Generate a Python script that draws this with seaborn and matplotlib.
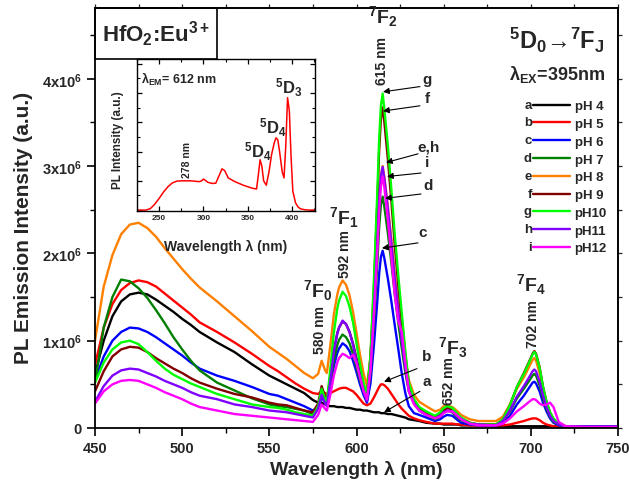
import matplotlib
matplotlib.use('Agg')
import matplotlib.pyplot as plt
from matplotlib.patches import Rectangle
from matplotlib.ticker import MultipleLocator, FuncFormatter
import pandas as pd
import seaborn as sns

# wavelength grid (nm) shared by all emission spectra
wavelength = [450, 455, 460, 465, 470, 475, 480, 485, 490, 495,
              500, 505, 510, 520, 530, 540, 550, 555, 560, 565,
              570, 575, 578, 580, 582, 583, 585, 587, 589, 590,
              592, 594, 596, 598, 600, 602, 604, 606, 608, 610,
              612, 613, 614, 615, 616, 618, 620, 622, 624, 626,
              628, 630, 633, 636, 640, 645, 648, 650, 652, 655,
              658, 660, 665, 670, 680, 684, 688, 692, 696, 699,
              701, 702, 703, 705, 707, 709, 711, 713, 716, 720,
              730, 740, 750]

# PL emission intensity, units of 10^6
ph4 = [0.62, 1.00, 1.28, 1.45, 1.53, 1.55, 1.53, 1.47, 1.40, 1.33,
       1.25, 1.18, 1.10, 0.98, 0.87, 0.73, 0.60, 0.55, 0.50, 0.45,
       0.40, 0.32, 0.29, 0.29, 0.27, 0.26, 0.25, 0.25, 0.24, 0.24,
       0.24, 0.23, 0.23, 0.22, 0.21, 0.21, 0.20, 0.20, 0.19, 0.18,
       0.18, 0.18, 0.17, 0.17, 0.17, 0.16, 0.16, 0.15, 0.14, 0.13,
       0.12, 0.10, 0.09, 0.08, 0.06, 0.05, 0.05, 0.04, 0.04, 0.04,
       0.04, 0.03, 0.03, 0.03, 0.02, 0.02, 0.02, 0.02, 0.02, 0.02,
       0.02, 0.02, 0.02, 0.02, 0.02, 0.02, 0.02, 0.02, 0.02, 0.01,
       0.01, 0.01, 0.01]
ph5 = [0.72, 1.15, 1.42, 1.58, 1.66, 1.69, 1.67, 1.62, 1.54, 1.46,
       1.38, 1.30, 1.21, 1.10, 0.98, 0.85, 0.71, 0.65, 0.58, 0.51,
       0.45, 0.40, 0.39, 0.42, 0.40, 0.39, 0.40, 0.42, 0.44, 0.45,
       0.46, 0.46, 0.44, 0.42, 0.38, 0.33, 0.28, 0.26, 0.28, 0.35,
       0.43, 0.47, 0.50, 0.50, 0.49, 0.45, 0.39, 0.33, 0.27, 0.22,
       0.18, 0.14, 0.11, 0.09, 0.07, 0.05, 0.05, 0.05, 0.05, 0.05,
       0.04, 0.04, 0.03, 0.03, 0.03, 0.03, 0.04, 0.06, 0.08, 0.10,
       0.11, 0.11, 0.11, 0.09, 0.06, 0.04, 0.03, 0.02, 0.02, 0.01,
       0.01, 0.01, 0.01]
ph6 = [0.55, 0.82, 1.00, 1.10, 1.15, 1.14, 1.10, 1.04, 0.97, 0.90,
       0.83, 0.75, 0.68, 0.60, 0.54, 0.47, 0.39, 0.37, 0.33, 0.29,
       0.25, 0.20, 0.24, 0.35, 0.29, 0.26, 0.47, 0.71, 0.86, 0.91,
       0.97, 0.94, 0.88, 0.77, 0.64, 0.50, 0.38, 0.29, 0.51, 0.95,
       1.47, 1.77, 1.96, 2.03, 1.94, 1.71, 1.45, 1.17, 0.90, 0.62,
       0.40, 0.25, 0.17, 0.15, 0.12, 0.08, 0.10, 0.13, 0.15, 0.14,
       0.09, 0.06, 0.04, 0.03, 0.03, 0.05, 0.14, 0.27, 0.37, 0.46,
       0.52, 0.53, 0.51, 0.42, 0.29, 0.19, 0.11, 0.06, 0.03, 0.02,
       0.01, 0.01, 0.01]
ph7 = [0.52, 1.15, 1.50, 1.70, 1.68, 1.60, 1.49, 1.35, 1.20, 1.04,
       0.90, 0.77, 0.66, 0.52, 0.43, 0.34, 0.27, 0.25, 0.24, 0.22,
       0.20, 0.16, 0.25, 0.42, 0.32, 0.28, 0.52, 0.78, 0.95, 1.01,
       1.07, 1.04, 0.97, 0.85, 0.70, 0.55, 0.42, 0.33, 0.63, 1.21,
       1.91, 2.30, 2.56, 2.65, 2.53, 2.23, 1.89, 1.52, 1.20, 0.91,
       0.64, 0.42, 0.28, 0.20, 0.15, 0.10, 0.13, 0.18, 0.20, 0.18,
       0.12, 0.09, 0.05, 0.04, 0.04, 0.08, 0.19, 0.34, 0.45, 0.54,
       0.60, 0.62, 0.60, 0.49, 0.34, 0.22, 0.13, 0.07, 0.04, 0.02,
       0.01, 0.01, 0.01]
ph8 = [1.00, 1.62, 1.98, 2.22, 2.33, 2.35, 2.29, 2.19, 2.06, 1.94,
       1.82, 1.71, 1.61, 1.45, 1.28, 1.11, 0.93, 0.86, 0.79, 0.71,
       0.63, 0.57, 0.62, 0.77, 0.66, 0.63, 0.95, 1.30, 1.53, 1.61,
       1.69, 1.64, 1.52, 1.33, 1.09, 0.84, 0.63, 0.48, 0.81, 1.44,
       2.19, 2.62, 2.90, 3.00, 2.87, 2.54, 2.16, 1.76, 1.41, 1.08,
       0.79, 0.55, 0.38, 0.30, 0.25, 0.19, 0.21, 0.25, 0.26, 0.24,
       0.19, 0.15, 0.10, 0.08, 0.08, 0.13, 0.27, 0.45, 0.58, 0.70,
       0.78, 0.80, 0.77, 0.63, 0.43, 0.28, 0.17, 0.10, 0.05, 0.02,
       0.02, 0.02, 0.02]
ph9 = [0.42, 0.65, 0.82, 0.90, 0.93, 0.92, 0.87, 0.80, 0.74, 0.68,
       0.63, 0.57, 0.52, 0.45, 0.39, 0.35, 0.29, 0.27, 0.26, 0.23,
       0.20, 0.18, 0.28, 0.48, 0.36, 0.32, 0.59, 0.89, 1.09, 1.15,
       1.22, 1.19, 1.10, 0.97, 0.80, 0.63, 0.47, 0.37, 0.80, 1.62,
       2.61, 3.18, 3.54, 3.67, 3.50, 3.08, 2.60, 2.08, 1.63, 1.22,
       0.84, 0.50, 0.32, 0.22, 0.17, 0.12, 0.15, 0.20, 0.23, 0.21,
       0.15, 0.11, 0.06, 0.04, 0.04, 0.10, 0.26, 0.47, 0.63, 0.76,
       0.85, 0.88, 0.85, 0.70, 0.47, 0.30, 0.18, 0.10, 0.05, 0.02,
       0.02, 0.02, 0.02]
ph10 = [0.52, 0.75, 0.90, 0.98, 1.00, 0.96, 0.87, 0.77, 0.68, 0.61,
        0.56, 0.51, 0.47, 0.39, 0.33, 0.27, 0.24, 0.23, 0.21, 0.18,
        0.16, 0.14, 0.25, 0.45, 0.33, 0.30, 0.68, 1.09, 1.37, 1.46,
        1.56, 1.51, 1.39, 1.21, 0.97, 0.73, 0.52, 0.38, 0.83, 1.69,
        2.73, 3.31, 3.69, 3.83, 3.65, 3.23, 2.73, 2.20, 1.74, 1.31,
        0.88, 0.52, 0.33, 0.24, 0.19, 0.14, 0.18, 0.23, 0.25, 0.23,
        0.16, 0.12, 0.06, 0.04, 0.04, 0.10, 0.26, 0.47, 0.62, 0.75,
        0.84, 0.87, 0.84, 0.69, 0.47, 0.30, 0.18, 0.11, 0.05, 0.02,
        0.02, 0.02, 0.02]
ph11 = [0.30, 0.48, 0.60, 0.66, 0.68, 0.67, 0.63, 0.59, 0.54, 0.50,
        0.46, 0.41, 0.37, 0.33, 0.27, 0.24, 0.20, 0.19, 0.18, 0.16,
        0.14, 0.12, 0.22, 0.38, 0.28, 0.25, 0.54, 0.87, 1.08, 1.15,
        1.23, 1.19, 1.10, 0.95, 0.77, 0.59, 0.42, 0.31, 0.66, 1.33,
        2.13, 2.59, 2.88, 2.99, 2.85, 2.51, 2.12, 1.70, 1.33, 0.99,
        0.69, 0.43, 0.28, 0.20, 0.15, 0.11, 0.14, 0.18, 0.20, 0.19,
        0.13, 0.10, 0.05, 0.04, 0.03, 0.08, 0.20, 0.36, 0.48, 0.58,
        0.65, 0.67, 0.65, 0.53, 0.37, 0.24, 0.14, 0.08, 0.04, 0.02,
        0.02, 0.02, 0.02]
ph12 = [0.28, 0.42, 0.50, 0.54, 0.55, 0.54, 0.50, 0.46, 0.41, 0.37,
        0.33, 0.28, 0.24, 0.20, 0.16, 0.14, 0.12, 0.11, 0.10, 0.09,
        0.08, 0.07, 0.15, 0.27, 0.22, 0.20, 0.38, 0.60, 0.75, 0.80,
        0.85, 0.83, 0.80, 0.84, 0.74, 0.58, 0.43, 0.33, 0.66, 1.29,
        2.05, 2.48, 2.77, 2.88, 2.75, 2.38, 1.95, 1.52, 1.22, 1.10,
        0.75, 0.42, 0.27, 0.20, 0.15, 0.11, 0.13, 0.17, 0.19, 0.19,
        0.14, 0.10, 0.05, 0.03, 0.03, 0.05, 0.11, 0.19, 0.25, 0.30,
        0.33, 0.33, 0.32, 0.28, 0.26, 0.27, 0.29, 0.24, 0.07, 0.02,
        0.01, 0.01, 0.01]

samples = ['pH 4', 'pH 5', 'pH 6', 'pH 7', 'pH 8', 'pH 9', 'pH10', 'pH11', 'pH12']
letters = ['a', 'b', 'c', 'd', 'e', 'f', 'g', 'h', 'i']
colors = ['#000000', '#ff0000', '#0000ff', '#008000', '#ff8000',
          '#800000', '#00ff00', '#8000ff', '#ff00ff']
spectra = [ph4, ph5, ph6, ph7, ph8, ph9, ph10, ph11, ph12]

# excitation spectrum (inset), monitored at 612 nm
exc_wl = [225, 235, 240, 245, 250, 255, 260, 265, 270, 275,
          280, 285, 290, 295, 298, 300, 302, 305, 310, 314,
          318, 321, 324, 328, 335, 345, 355, 360, 362, 364,
          366, 368, 371, 374, 377, 380, 382, 384, 386, 389,
          391, 393, 395, 397, 399, 401, 404, 407, 410, 415,
          420, 426]
exc_pl = [0.00, 0.00, 0.05, 0.20, 0.40, 0.62, 0.80, 0.93, 0.99, 1.00,
          1.00, 1.00, 0.99, 0.97, 1.00, 1.06, 1.02, 0.95, 0.91, 0.92,
          1.20, 1.41, 1.35, 1.10, 0.98, 0.85, 0.75, 0.72, 1.20, 1.72,
          1.50, 1.00, 0.85, 1.30, 1.90, 2.30, 2.47, 2.40, 2.00, 1.30,
          1.10, 2.20, 3.84, 3.40, 1.80, 0.64, 0.25, 0.10, 0.04, 0.01,
          0.00, 0.00]

df = pd.concat([pd.DataFrame({'wl': wavelength, 'pl': s, 'sample': name})
                for name, s in zip(samples, spectra)], ignore_index=True)

sns.set_theme(style='ticks')
plt.rcParams['font.family'] = ['Liberation Sans', 'DejaVu Sans']
plt.rcParams['font.weight'] = 'bold'
plt.rcParams['axes.labelweight'] = 'bold'
plt.rcParams['mathtext.fontset'] = 'custom'
plt.rcParams['mathtext.rm'] = 'Liberation Sans:bold'
plt.rcParams['mathtext.it'] = 'Liberation Sans:bold'
plt.rcParams['mathtext.bf'] = 'Liberation Sans:bold'

W, H = 629, 485
fig = plt.figure(figsize=(W / 100, H / 100), dpi=100)
fig.patch.set_facecolor('white')
ax = fig.add_axes([95 / W, 1 - 429 / H, 523 / W, 420 / H])

sns.lineplot(data=df, x='wl', y='pl', hue='sample', hue_order=samples,
             palette=colors, estimator=None, sort=False, lw=1.7,
             legend=False, ax=ax)

ax.set_xlim(450, 750)
ax.set_ylim(0, 4.81)
ax.xaxis.set_major_locator(MultipleLocator(50))
ax.xaxis.set_minor_locator(MultipleLocator(25))
ax.yaxis.set_major_locator(MultipleLocator(1))
ax.yaxis.set_minor_locator(MultipleLocator(0.5))
ax.yaxis.set_major_formatter(FuncFormatter(
    lambda v, p: '0' if v == 0 else f'{v:.0f}x10$^{{6}}$'))
ax.tick_params(which='major', direction='out', length=6, width=1.2,
               labelsize=10.5, color='black')
ax.tick_params(which='minor', direction='out', length=3.5, width=1.0, color='black')
for lab in ax.get_xticklabels() + ax.get_yticklabels():
    lab.set_fontweight('bold')
for sp in ax.spines.values():
    sp.set_linewidth(1.3)
    sp.set_color('black')
    sp.set_visible(True)

# short outward ticks on the opposite sides
sec_y = ax.secondary_yaxis('right')
sec_y.yaxis.set_major_locator(MultipleLocator(0.5))
sec_y.tick_params(which='both', direction='out', length=3, width=0.9,
                  labelright=False)
sec_x = ax.secondary_xaxis('top')
sec_x.xaxis.set_major_locator(MultipleLocator(25))
sec_x.tick_params(which='both', direction='out', length=3, width=0.9,
                  labeltop=False)

ax.set_xlabel('Wavelength λ (nm)', fontsize=14, fontweight='bold')
ax.set_ylabel('PL Emission Intensity (a.u.)', fontsize=15, fontweight='bold')
ax.xaxis.set_label_coords(0.5, -0.076)
ax.yaxis.set_label_coords((33 - 95) / 523, 0.479)

# sample box
ax.add_patch(Rectangle((0, 0.8786), 0.2333, 0.1214, transform=ax.transAxes,
                       fill=False, lw=1.2, edgecolor='black', clip_on=False))
ax.text(0.1167, 0.939, 'HfO$_2$:Eu$^{3+}$', transform=ax.transAxes,
        ha='center', va='center', fontsize=16, fontweight='bold')

ax.text(0.883, 0.926, '$^5$D$_0$\u2192$^7$F$_J$', transform=ax.transAxes,
        ha='center', va='center', fontsize=17, fontweight='bold')
ax.text(0.883, 0.845, 'λ$_{EX}$=395nm', transform=ax.transAxes,
        ha='center', va='center', fontsize=13, fontweight='bold')

# transition labels
peak_labels = [('$^7$F$_0$', 577.9, 1.58, '580 nm', 579.1, 1.13),
               ('$^7$F$_1$', 592.8, 2.42, '592 nm', 593.4, 2.00),
               ('$^7$F$_2$', 615.2, 4.72, '615 nm', 614.6, 4.22),
               ('$^7$F$_3$', 655.4, 0.93, '652 nm', 653.1, 0.55),
               ('$^7$F$_4$', 700.1, 1.65, '702 nm', 701.2, 1.20)]
for name, tx, ty, nm, nx, ny in peak_labels:
    ax.text(tx, ty, name, ha='center', va='center', fontsize=14, fontweight='bold')
    ax.text(nx, ny, nm, ha='center', va='center', rotation=90,
            fontsize=10, fontweight='bold')

# pointer arrows
arrows = [('g', (615.2, 3.85), (636.4, 3.91), (640.4, 4.00)),
          ('f', (615.2, 3.63), (636.4, 3.69), (640.4, 3.78)),
          ('e,h', (616.9, 3.04), (635.3, 3.14), (641.5, 3.22)),
          ('i', (617.5, 2.88), (637.0, 2.92), (640.4, 3.05)),
          ('d', (616.4, 2.63), (637.0, 2.68), (641.0, 2.78)),
          ('c', (614.6, 2.06), (635.3, 2.12), (638.1, 2.25)),
          ('b', (615.8, 0.53), (634.7, 0.68), (640.4, 0.82)),
          ('a', (615.8, 0.18), (636.4, 0.42), (640.4, 0.54))]
for lab, head, tail, tpos in arrows:
    ax.annotate('', xy=head, xytext=tail,
                arrowprops=dict(arrowstyle='-|>', color='black', lw=0.8,
                                mutation_scale=9, shrinkA=0, shrinkB=0))
    ax.text(tpos[0], tpos[1], lab, ha='center', va='center',
            fontsize=11, fontweight='bold')

leg = ax.legend(ax.lines[:9], samples, loc='upper left',
                bbox_to_anchor=((533 - 95) / 523, (429 - 101) / 420),
                frameon=False, fontsize=9.5, handlelength=2.8,
                handletextpad=0.35, labelspacing=0.42, borderpad=0,
                borderaxespad=0)
for t in leg.get_texts():
    t.set_fontweight('bold')

# inset: excitation spectrum
axin = fig.add_axes([137 / W, 1 - 212 / H, 178 / W, 152 / H])
axin.set_facecolor('white')
sns.lineplot(x=exc_wl, y=exc_pl, color='#ff0000', lw=1.1, ax=axin)
axin.set_xlim(225, 426)
axin.set_ylim(-0.03, 5.16)
axin.xaxis.set_major_locator(MultipleLocator(50))
axin.xaxis.set_minor_locator(MultipleLocator(25))
axin.yaxis.set_major_locator(MultipleLocator(1))
axin.yaxis.set_minor_locator(MultipleLocator(0.5))
axin.set_yticklabels([])
axin.tick_params(which='both', direction='in', top=True, right=True,
                 labelsize=6, pad=2, color='black')
axin.tick_params(which='major', length=3.5, width=0.9)
axin.tick_params(which='minor', length=2, width=0.8)
for lab in axin.get_xticklabels():
    lab.set_fontweight('bold')
for sp in axin.spines.values():
    sp.set_linewidth(1.0)
    sp.set_color('black')
axin.set_xlabel('Wavelength λ (nm)', fontsize=10, fontweight='bold')
axin.set_ylabel('PL Intensity (a.u.)', fontsize=8.5, fontweight='bold')
axin.xaxis.set_label_coords(0.5, -0.184)
axin.yaxis.set_label_coords(-0.075, 0.47)
axin.text(0.02, 0.87, 'λ$_{EM}$= 612 nm', transform=axin.transAxes,
          ha='left', va='center', fontsize=9, fontweight='bold')
axin.text(281.2, 1.74, '278 nm', rotation=90, ha='center', va='center',
          fontsize=7.5, fontweight='bold')
for name, x, y in [('$^5$D$_4$', 361.3, 2.04), ('$^5$D$_4$', 378.2, 2.85),
                   ('$^5$D$_3$', 396.3, 4.21)]:
    axin.text(x, y, name, ha='center', va='center', fontsize=12, fontweight='bold')

# letters in front of legend lines
fig.canvas.draw()
renderer = fig.canvas.get_renderer()
for line, letter in zip(leg.get_lines(), letters):
    bb = line.get_window_extent(renderer)
    fig.text((bb.x0 - 1) / W, (bb.y0 + bb.y1) / 2 / H, letter,
             ha='right', va='center', fontsize=9.5, fontweight='bold')

fig.savefig('out.png', dpi=100, facecolor='white')
